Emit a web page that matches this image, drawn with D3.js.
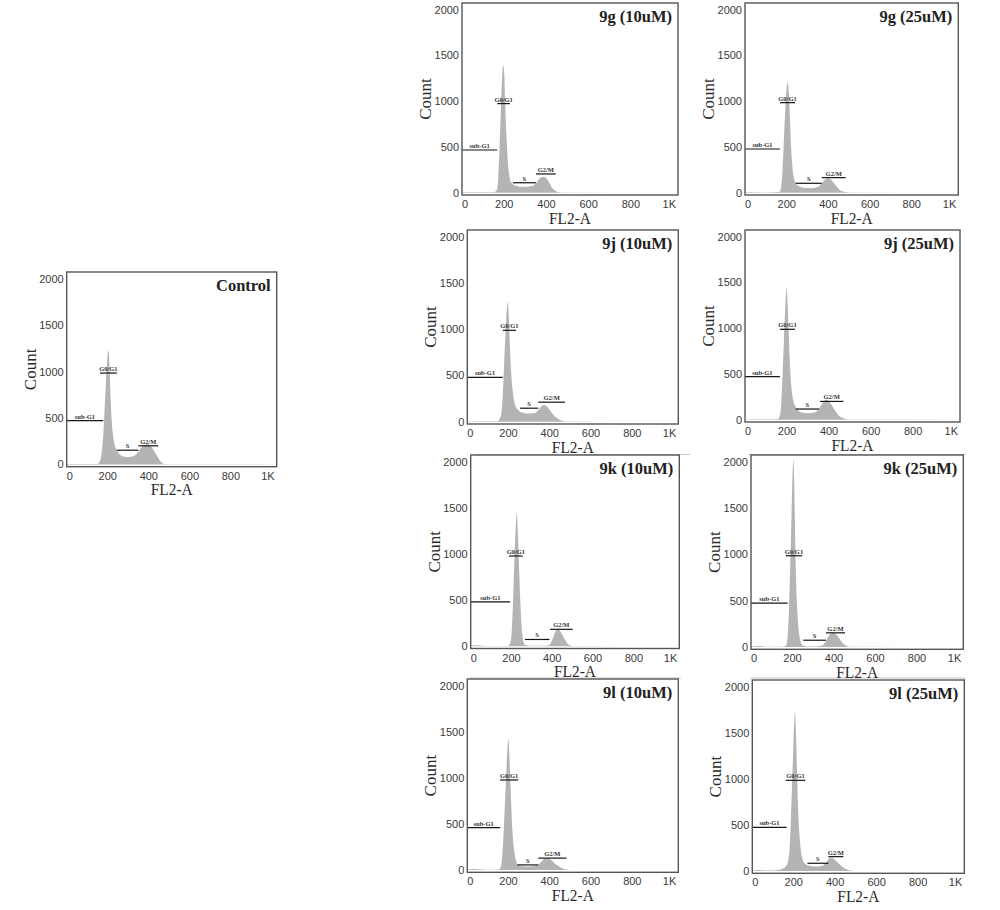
<!DOCTYPE html>
<html>
<head>
<meta charset="utf-8">
<script src="https://cdn.jsdelivr.net/npm/d3@7/dist/d3.min.js"></script>
<style>
  html, body { margin: 0; padding: 0; background: #fff; }
  svg { display: block; }
</style>
</head>
<body>
<svg id="chart" width="1000" height="910"></svg>
<script>
// ---------- DATA (channel FL2-A, count) ----------
const xTickValues = [0, 200, 400, 600, 800, 1000];
const xTickLabels = ["0", "200", "400", "600", "800", "1K"];
const yTickValues = [0, 500, 1000, 1500, 2000];
const markerNames = ["sub-G1", "G0/G1", "S", "G2/M"];
const panelTitles = ["Control", "9g (10uM)", "9g (25uM)", "9j (10uM)", "9j (25uM)", "9k (10uM)", "9k (25uM)", "9l (10uM)", "9l (25uM)"];

const histControl = [[0,3],[60,4],[120,3],[150,5],[159,20],[170,120],[180,380],[187,700],[194,1000],[200,1200],[203,1225],[207,1150],[210,950],[214,700],[220,450],[228,280],[235,200],[248,140],[262,100],[280,82],[300,80],[320,85],[335,100],[350,140],[365,185],[380,210],[395,218],[408,205],[420,165],[435,110],[450,55],[462,20],[471,6],[490,2],[1023,0]];
const hist9g10 = [[0,4],[50,6],[100,4],[150,6],[165,30],[172,180],[178,500],[184,900],[190,1250],[196,1397],[201,1250],[205,950],[210,650],[216,380],[222,220],[228,140],[240,95],[255,75],[280,65],[310,66],[335,75],[350,100],[362,140],[375,168],[385,175],[398,160],[412,115],[425,60],[440,25],[455,8],[470,2],[1023,0]];
const hist9g25 = [[0,4],[100,3],[165,8],[173,60],[180,250],[186,550],[193,900],[200,1150],[205,1204],[210,1100],[215,850],[220,550],[226,320],[233,180],[240,120],[255,75],[280,55],[320,50],[350,62],[365,95],[378,130],[390,152],[400,157],[412,145],[425,110],[440,65],[455,30],[470,12],[495,3],[1023,0]];
const hist9j10 = [[0,3],[100,4],[145,6],[155,25],[165,90],[172,300],[178,600],[185,950],[191,1200],[196,1291],[201,1150],[206,850],[211,600],[218,380],[225,250],[232,180],[245,130],[265,100],[290,90],[320,92],[336,105],[348,135],[358,165],[368,182],[380,175],[395,140],[410,95],[425,55],[445,25],[465,8],[482,2],[1023,0]];
const hist9j25 = [[0,3],[100,4],[155,6],[166,40],[173,200],[179,500],[185,850],[191,1200],[198,1443],[203,1250],[208,950],[213,650],[220,380],[228,230],[236,160],[250,110],[270,80],[300,72],[330,78],[345,100],[360,150],[372,195],[382,215],[389,218],[400,200],[415,150],[430,95],[445,50],[465,20],[485,6],[505,1],[1023,0]];
const hist9k10 = [[0,8],[30,10],[60,6],[100,2],[180,2],[190,15],[200,120],[207,450],[213,850],[219,1200],[226,1442],[232,1200],[238,800],[244,450],[250,200],[257,70],[266,15],[290,5],[340,5],[380,8],[392,30],[402,80],[412,140],[420,175],[427,183],[436,170],[448,130],[460,80],[472,35],[485,10],[500,2],[1023,0]];
const hist9k25 = [[0,4],[40,10],[70,3],[150,2],[168,10],[176,100],[183,400],[189,850],[195,1400],[200,1850],[204,2026],[208,1800],[212,1300],[217,750],[223,400],[230,180],[238,70],[248,20],[270,6],[320,6],[345,15],[358,50],[370,100],[382,140],[394,153],[405,145],[418,115],[430,75],[445,35],[460,10],[475,2],[1023,0]];
const hist9l10 = [[0,6],[30,12],[60,8],[90,3],[150,3],[160,20],[168,120],[175,350],[181,650],[188,1000],[194,1300],[199,1421],[204,1250],[209,950],[214,650],[220,380],[228,200],[236,100],[245,60],[265,40],[295,37],[320,40],[340,55],[355,80],[365,105],[376,129],[390,128],[405,110],[420,80],[440,45],[460,18],[480,5],[500,1],[1023,0]];
const hist9l25 = [[0,5],[30,10],[60,6],[100,5],[126,10],[145,25],[160,45],[172,100],[180,250],[186,550],[192,950],[198,1350],[202,1600],[206,1725],[210,1550],[215,1150],[220,750],[226,450],[233,250],[241,140],[250,90],[270,60],[300,50],[330,52],[350,75],[362,110],[376,146],[388,140],[402,115],[418,80],[435,45],[455,18],[472,5],[495,1],[1023,0]];

// marker gates: [from, to, level] in order sub-G1, G0/G1, S, G2/M
const gatesControl = [[0,178,472],[162,244,985],[244,349,153],[349,446,200]];
const gates9g10 = [[0,167,467],[167,227,975],[241,350,109],[350,444,205]];
const gates9g25 = [[0,168,478],[168,240,985],[243,368,103],[368,483,165]];
const gates9j10 = [[0,172,480],[172,236,989],[256,344,146],[344,474,211]];
const gates9j25 = [[0,166,472],[166,238,989],[241,352,117],[357,468,200]];
const gates9k10 = [[0,193,482],[188,255,979],[266,386,73],[389,500,183]];
const gates9k25 = [[0,177,475],[167,247,986],[252,361,73],[361,453,153]];
const gates9l10 = [[0,159,461],[159,247,978],[243,344,55],[344,481,129]];
const gates9l25 = [[0,166,474],[161,256,985],[266,367,84],[367,439,156]];

// ---------- LAYOUT ----------
const layout = [
  {box:[66.7,272,276.7,466.7], hist:histControl, gates:gatesControl},
  {box:[462,3,678,195], hist:hist9g10, gates:gates9g10},
  {box:[745,3,958.3,195], hist:hist9g25, gates:gates9g25},
  {box:[467.3,230,678.3,424], hist:hist9j10, gates:gates9j10},
  {box:[745,230,960,422], hist:hist9j25, gates:gates9j25},
  {box:[470.7,455,679.3,648.5], hist:hist9k10, gates:gates9k10},
  {box:[751,455,963.3,649.3], hist:hist9k25, gates:gates9k25},
  {box:[467.3,679,678.3,872.3], hist:hist9l10, gates:gates9l10},
  {box:[752.3,680,964.3,873.3], hist:hist9l25, gates:gates9l25}
];

const svg = d3.select("#chart");
const serif = "'Liberation Serif', 'Times New Roman', serif";
const sans = "'Liberation Sans', Arial, sans-serif";

// faint crop edges from the original figure
const edges = [[475,690,454.5],[748,966,454.5],[470,681,678],[750,966,678]];
svg.selectAll("line.edge").data(edges).join("line")
  .attr("x1", d => d[0]).attr("x2", d => d[1]).attr("y1", d => d[2]).attr("y2", d => d[2])
  .attr("stroke", "#c8c8c8").attr("stroke-width", 1);

layout.forEach((p, i) => {
  const [l, t, r, b] = p.box;
  const x = d3.scaleLinear().domain([0, 1023]).range([l, r]);
  const y = d3.scaleLinear().domain([-25, 2075]).range([b, t]);
  const g = svg.append("g");
  const clipId = "clip" + i;
  g.append("clipPath").attr("id", clipId).append("rect")
    .attr("x", l).attr("y", t).attr("width", r - l).attr("height", b - t);

  const area = d3.area()
    .x(d => x(d[0])).y0(y(0)).y1(d => y(d[1]))
    .curve(d3.curveMonotoneX);
  g.append("path").datum(p.hist)
    .attr("clip-path", `url(#${clipId})`)
    .attr("d", area).attr("fill", "#b4b4b4");

  // gates
  p.gates.forEach((gt, k) => {
    g.append("line")
      .attr("x1", x(gt[0])).attr("x2", x(gt[1]))
      .attr("y1", y(gt[2])).attr("y2", y(gt[2]))
      .attr("stroke", "#151515").attr("stroke-width", 1.2);
    g.append("text")
      .attr("x", (x(gt[0]) + x(gt[1])) / 2).attr("y", y(gt[2]) - 2)
      .attr("text-anchor", "middle")
      .attr("font-family", serif).attr("font-weight", "bold")
      .attr("font-size", 6.5).attr("fill", "#333")
      .text(markerNames[k]);
  });

  // frame
  g.append("rect").attr("x", l).attr("y", t).attr("width", r - l).attr("height", b - t)
    .attr("fill", "none").attr("stroke", "#555").attr("stroke-width", 1.4);

  // y tick labels
  g.selectAll("text.yt").data(yTickValues).join("text")
    .attr("class", "yt")
    .attr("x", l - 3).attr("y", d => y(d)).attr("dy", "0.35em")
    .attr("text-anchor", "end")
    .attr("font-family", sans).attr("font-size", 11).attr("fill", "#3a3a3a")
    .text(d => d);

  // x tick labels
  g.selectAll("text.xt").data(xTickValues).join("text")
    .attr("class", "xt")
    .attr("x", (d, k) => k === 0 ? x(d) : (k === xTickValues.length - 1 ? r - 2 : x(d)))
    .attr("y", b + 13)
    .attr("text-anchor", (d, k) => k === 0 ? "start" : (k === xTickValues.length - 1 ? "end" : "middle"))
    .attr("font-family", sans).attr("font-size", 11).attr("fill", "#3a3a3a")
    .text((d, k) => xTickLabels[k]);

  // axis titles
  g.append("text")
    .attr("x", (l + r) / 2).attr("y", b + 28.5)
    .attr("text-anchor", "middle")
    .attr("font-family", serif).attr("font-size", 17).attr("fill", "#2a2a2a")
    .attr("textLength", 42).attr("lengthAdjust", "spacingAndGlyphs")
    .text("FL2-A");
  g.append("text")
    .attr("transform", `translate(${l - 37},${(t + b) / 2}) rotate(-90)`)
    .attr("dy", "0.35em")
    .attr("text-anchor", "middle")
    .attr("font-family", serif).attr("font-size", 17).attr("fill", "#2a2a2a")
    .text("Count");

  // panel title
  g.append("text")
    .attr("x", r - 6).attr("y", t + 19)
    .attr("text-anchor", "end")
    .attr("font-family", serif).attr("font-weight", "bold")
    .attr("font-size", 16.5).attr("fill", "#222")
    .text(panelTitles[i]);
});
</script>
</body>
</html>
